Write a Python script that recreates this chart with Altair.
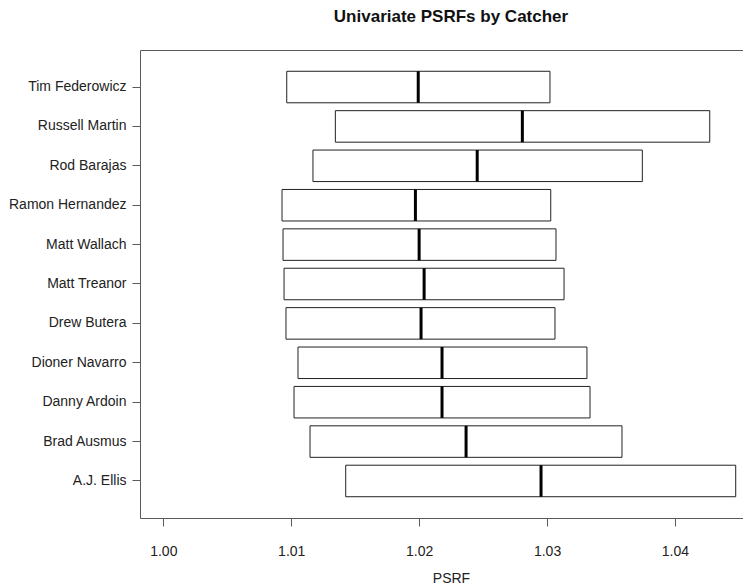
import altair as alt
import pandas as pd

catchers = ["Tim Federowicz", "Russell Martin", "Rod Barajas", "Ramon Hernandez",
            "Matt Wallach", "Matt Treanor", "Drew Butera", "Dioner Navarro",
            "Danny Ardoin", "Brad Ausmus", "A.J. Ellis"]
lower = [1.00965, 1.01345, 1.01170, 1.00928, 1.00936, 1.00944, 1.00959,
         1.01053, 1.01022, 1.01147, 1.01426]
median = [1.01993, 1.02807, 1.02454, 1.01971, 1.02000, 1.02039, 1.02015,
          1.02179, 1.02179, 1.02367, 1.02953]
upper = [1.03023, 1.04272, 1.03745, 1.03029, 1.03070, 1.03133, 1.03062,
         1.03312, 1.03336, 1.03586, 1.04475]
x_ticks = [1.00, 1.01, 1.02, 1.03, 1.04]

df = pd.DataFrame({"catcher": catchers, "lower": lower,
                   "median": median, "upper": upper})

FONT = "Liberation Sans"
FRAME = "#5a5a5a"

xscale = alt.Scale(domain=[0.998178, 1.04532], nice=False, zero=False)
yscale = alt.Scale(domain=catchers, paddingInner=0.2, paddingOuter=0.54)

y_axis = alt.Axis(title=None, labelFont=FONT, labelFontSize=14, labelColor="#222",
                  tickSize=8, tickColor=FRAME, domainColor=FRAME, labelPadding=6,
                  grid=False, labelLimit=300)

boxes = alt.Chart(df).mark_bar(fill="white", stroke="#222", strokeWidth=1).encode(
    y=alt.Y("catcher:N", scale=yscale, sort=catchers, axis=y_axis),
    x=alt.X("lower:Q", scale=xscale,
            axis=alt.Axis(title="PSRF", values=x_ticks, format=".2f", grid=False,
                          labelFont=FONT, labelFontSize=14, labelColor="#222",
                          tickSize=8, tickColor=FRAME, domainColor=FRAME,
                          labelPadding=18, titleFont=FONT, titleFontSize=14,
                          titleFontWeight="normal", titleColor="#222",
                          titlePadding=13, titleX=311)),
    x2="upper:Q",
)

medians = alt.Chart(df).mark_tick(color="black", thickness=3, size=31.5,
                                  orient="vertical", opacity=1).encode(
    y=alt.Y("catcher:N", scale=yscale, sort=catchers, axis=y_axis),
    x=alt.X("median:Q", scale=xscale,
            axis=alt.Axis(orient="top", labels=False, ticks=False, title=None,
                          grid=False, domainColor=FRAME, minExtent=0)),
)

chart = alt.layer(boxes, medians).resolve_axis(x="independent").properties(
    width=603, height=468, padding=0,
    title=alt.TitleParams("Univariate PSRFs by Catcher", font=FONT, fontSize=17,
                          fontWeight="bold", color="#111", offset=24, dx=9.5),
).configure_view(stroke="transparent")

chart.save("out.html", embed_options={"renderer": "svg", "actions": False})
